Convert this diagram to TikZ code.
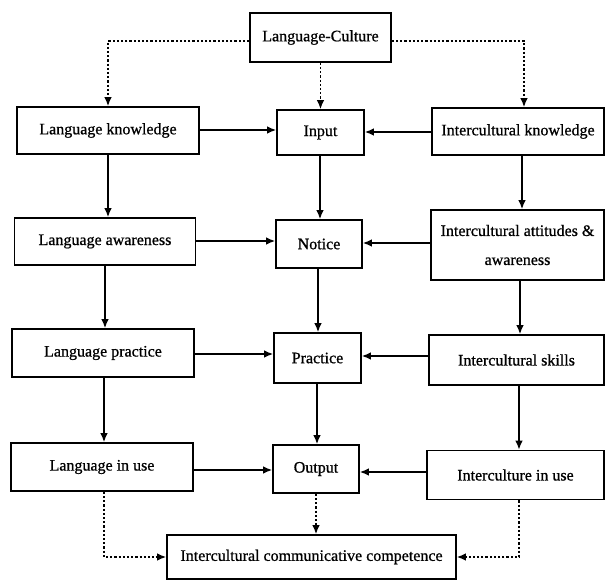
\documentclass[tikz,border=0pt]{standalone}
\usepackage{fontspec}
\setmainfont{Liberation Serif}[BoldFont={Liberation Serif},BoldFeatures={FakeBold=0.8}]
\usetikzlibrary{arrows.meta,calc}
\begin{document}
\begin{tikzpicture}[x=1pt,y=-1pt,
  box/.style={draw,line width=1.6pt,inner sep=2pt,align=center,font=\fontsize{16}{29}\selectfont\bfseries},
  arr/.style={line width=1.5pt,-{Latex[length=9pt,width=7.5pt]}},
  darr/.style={line width=1.5pt,dash pattern=on 2.2pt off 2pt,-{Latex[length=9pt,width=7.5pt]}}]
\useasboundingbox (0,0) rectangle (607,580);
\node[box,minimum width=141pt,minimum height=49pt] (lc) at (320.5,37.5) {Language-Culture};
\node[box,minimum width=182pt,minimum height=47pt] (lk) at (108,130.5) {Language knowledge};
\node[box,minimum width=87pt,minimum height=45pt] (in) at (320.5,132.5) {Input};
\node[box,minimum width=172pt,minimum height=47pt] (ik) at (518,131.5) {Intercultural knowledge};
\node[box,minimum width=181pt,minimum height=47pt] (la) at (105,241.5) {Language awareness};
\node[box,minimum width=86pt,minimum height=48pt] (no) at (319,244) {Notice};
\node[box,minimum width=173pt,minimum height=70pt] (ia) at (517.5,245) {Intercultural attitudes \&\\awareness};
\node[box,minimum width=182pt,minimum height=48pt] (lp) at (103,353) {Language practice};
\node[box,minimum width=87pt,minimum height=50pt] (pr) at (317.5,358) {Practice};
\node[box,minimum width=175pt,minimum height=50pt] (is) at (516.5,360) {Intercultural skills};
\node[box,minimum width=177pt,minimum height=49pt] (iu) at (515.5,475) {Interculture in use};
\node[box,minimum width=182pt,minimum height=48pt] (lu) at (102,467) {Language in use};
\node[box,minimum width=86pt,minimum height=48pt] (ou) at (316,469) {Output};
\node[box,minimum width=289pt,minimum height=44pt] (icc) at (311.5,557) {Intercultural communicative competence};
% dashed from top
\draw[darr] (lc.west |- 0,41) -| (lk.north -| 108,0);
\draw[darr] (lc.east |- 0,41) -| (ik.north -| 524,0);
\draw[darr] (lc.south) -- (in.north -| lc.south);
% horizontals
\draw[arr] (lk.east |- 0,130) -- (in.west |- 0,130);
\draw[arr] (ik.west |- 0,132) -- (in.east |- 0,132);
\draw[arr] (la.east |- 0,241) -- (no.west |- 0,241);
\draw[arr] (ia.west |- 0,243) -- (no.east |- 0,243);
\draw[arr] (lp.east |- 0,354) -- (pr.west |- 0,354);
\draw[arr] (is.west |- 0,356) -- (pr.east |- 0,356);
\draw[arr] (lu.east |- 0,470) -- (ou.west |- 0,470);
\draw[arr] (iu.west |- 0,472) -- (ou.east |- 0,472);
% verticals
\draw[arr] (lk.south -| 108,0) -- (la.north -| 108,0);
\draw[arr] (la.south -| 105,0) -- (lp.north -| 105,0);
\draw[arr] (lp.south -| 104,0) -- (lu.north -| 104,0);
\draw[arr] (in.south -| 320,0) -- (no.north -| 320,0);
\draw[arr] (no.south -| 318,0) -- (pr.north -| 318,0);
\draw[arr] (pr.south -| 317,0) -- (ou.north -| 317,0);
\draw[arr] (ik.south -| 522,0) -- (ia.north -| 522,0);
\draw[arr] (ia.south -| 520,0) -- (is.north -| 520,0);
\draw[arr] (is.south -| 519,0) -- (iu.north -| 519,0);
% dashed to bottom
\draw[darr] (lu.south -| 104,0) |- (icc.west);
\draw[darr] (ou.south -| 316,0) -- (icc.north -| 316,0);
\draw[darr] (iu.south -| 519,0) |- (icc.east);
\end{tikzpicture}
\end{document}
